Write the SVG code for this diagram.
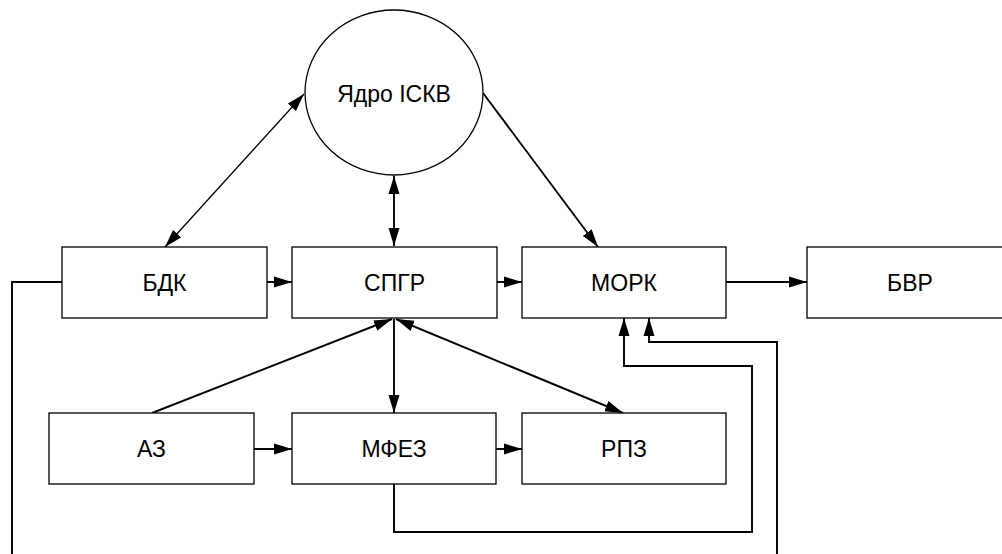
<svg xmlns="http://www.w3.org/2000/svg" width="1002" height="554" viewBox="0 0 1002 554">
<style>
.box{fill:#fff;stroke:#000;stroke-width:1.3}
.lbl{font-family:"Liberation Sans",Arial,sans-serif;font-size:23px;fill:#000;text-anchor:middle;dominant-baseline:central}
.c{fill:none;stroke:#000;stroke-width:1.9}
.ca{fill:none;stroke:#000;stroke-width:1.3}
</style>
<defs>
<marker id="ah" markerUnits="userSpaceOnUse" markerWidth="19" markerHeight="12" viewBox="0 0 19 12" refX="18" refY="6" orient="auto">
<path d="M0,0.5 L18,6 L0,11.5 Z" fill="#000"/>
</marker>
<marker id="as" markerUnits="userSpaceOnUse" markerWidth="19" markerHeight="12" viewBox="0 0 19 12" refX="1" refY="6" orient="auto">
<path d="M19,0.5 L1,6 L19,11.5 Z" fill="#000"/>
</marker>
</defs>
<g id="connectors">
<line class="ca" x1="165" y1="247" x2="304" y2="94" marker-start="url(#as)" marker-end="url(#ah)"/>
<line class="c" x1="483" y1="93" x2="598" y2="247" marker-end="url(#ah)"/>
<line class="c" x1="394" y1="176" x2="394" y2="246" marker-start="url(#as)" marker-end="url(#ah)"/>
<line class="c" x1="267" y1="282" x2="292" y2="282" marker-end="url(#ah)"/>
<line class="c" x1="497" y1="282" x2="522" y2="282" marker-end="url(#ah)"/>
<line class="c" x1="726" y1="282" x2="807" y2="282" marker-end="url(#ah)"/>
<line class="c" x1="152" y1="413" x2="392" y2="319" marker-end="url(#ah)"/>
<line class="c" x1="394" y1="319" x2="394" y2="413" marker-end="url(#ah)"/>
<line class="c" x1="396" y1="319" x2="623" y2="413" marker-start="url(#as)" marker-end="url(#ah)"/>
<line class="c" x1="254" y1="449" x2="292" y2="449" marker-end="url(#ah)"/>
<line class="c" x1="496" y1="449" x2="522" y2="449" marker-end="url(#ah)"/>
<path class="c" d="M394,484 V532 H752 V366 H624 V318" marker-end="url(#ah)"/>
<path class="c" d="M62,282 H12 V570 H777 V342 H649 V318" marker-end="url(#ah)"/>
</g>
<g id="core">
<ellipse class="box" cx="394" cy="92.5" rx="89" ry="82.5"/>
<text class="lbl" x="394" y="94">Ядро ІСКВ</text>
</g>
<g id="bdk"><rect class="box" x="62" y="247" width="205" height="71"/><text class="lbl" x="164.5" y="282.5">БДК</text></g>
<g id="spgr"><rect class="box" x="292" y="247" width="205" height="71"/><text class="lbl" x="394.5" y="282.5">СПГР</text></g>
<g id="mork"><rect class="box" x="522" y="247" width="204" height="71"/><text class="lbl" x="624" y="282.5">МОРК</text></g>
<g id="bvr"><rect class="box" x="807" y="247" width="205" height="71"/><text class="lbl" x="910" y="282.5">БВР</text></g>
<g id="az"><rect class="box" x="49" y="413" width="205" height="71"/><text class="lbl" x="151.5" y="448.5">АЗ</text></g>
<g id="mfez"><rect class="box" x="292" y="413" width="204" height="71"/><text class="lbl" x="394" y="448.5">МФЕЗ</text></g>
<g id="rpz"><rect class="box" x="522" y="413" width="204" height="71"/><text class="lbl" x="624" y="448.5">РПЗ</text></g>
</svg>
